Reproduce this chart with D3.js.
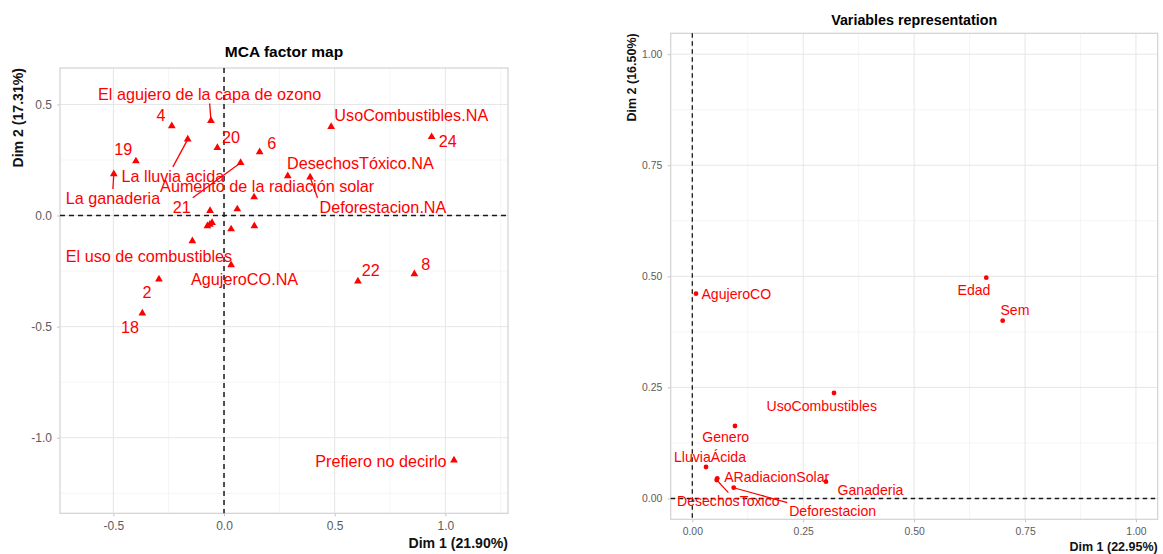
<!DOCTYPE html>
<html>
<head>
<meta charset="utf-8">
<script src="https://cdn.jsdelivr.net/npm/d3@7"></script>
<style>
  html, body { margin: 0; padding: 0; background: #fff; }
  svg { display: block; font-family: "Liberation Sans", Arial, Helvetica, sans-serif; }
</style>
</head>
<body>
<svg id="chart" width="1163" height="554"></svg>
<script>
// ---- MCA factor map: labelled categories / individuals ----
const mcaLabels = [
  "El agujero de la capa de ozono", "4", "20", "La lluvia acida", "19",
  "La ganaderia", "6", "21", "Aumento de la radiación solar",
  "DesechosTóxico.NA", "Deforestacion.NA", "UsoCombustibles.NA", "24",
  "El uso de combustibles", "AgujeroCO.NA", "2", "18", "22", "8",
  "Prefiero no decirlo"
];
const mcaDim1 = [
  -0.059, -0.236, -0.030, -0.164, -0.398,
  -0.498, 0.161, 0.075, 0.136,
  0.288, 0.389, 0.484, 0.938,
  -0.143, 0.032, -0.294, -0.369, 0.605, 0.860,
  1.039
];
const mcaDim2 = [
  0.427, 0.403, 0.305, 0.343, 0.245,
  0.187, 0.286, 0.238, 0.083,
  0.178, 0.172, 0.400, 0.354,
  -0.115, -0.223, -0.287, -0.440, -0.296, -0.263,
  -1.101
];
// repelled label anchors (data units)
const mcaLabelDim1 = [
  -0.065, -0.285, 0.032, -0.231, -0.455,
  -0.502, 0.216, -0.191, 0.195,
  0.616, 0.718, 0.846, 1.011,
  -0.339, 0.093, -0.348, -0.425, 0.663, 0.911,
  0.709
];
const mcaLabelDim2 = [
  0.547, 0.452, 0.355, 0.179, 0.300,
  0.080, 0.328, 0.040, 0.133,
  0.236, 0.040, 0.453, 0.336,
  -0.182, -0.287, -0.346, -0.503, -0.245, -0.218,
  -1.105
];
// labels pushed far enough from their point to get a leader line
const mcaLeader = [
  true, false, false, true, false,
  true, false, true, false,
  false, true, false, false,
  false, false, false, false, false, false,
  false
];
// points whose labels were dropped by the repel step
const mcaHiddenDim1 = [-0.063, 0.060, -0.054, -0.075, -0.064, 0.032, 0.137];
const mcaHiddenDim2 = [0.022, 0.029, -0.032, -0.047, -0.040, -0.061, -0.047];

// ---- Variables representation ----
const varNames = [
  "AgujeroCO", "UsoCombustibles", "Genero", "LluviaÁcida", "ARadiacionSolar",
  "DesechosToxico", "Deforestacion", "Ganaderia", "Edad", "Sem"
];
const varDim1 = [0.0083, 0.3194, 0.0962, 0.0309, 0.0563, 0.0550, 0.0933, 0.3013, 0.6626, 0.6996];
const varDim2 = [0.4610, 0.2375, 0.1632, 0.0709, 0.0455, 0.0416, 0.0243, 0.0378, 0.4971, 0.4003];
const varLabelDim1 = [0.0992, 0.2918, 0.0753, 0.0399, 0.1902, 0.0811, 0.3164, 0.4016, 0.6349, 0.7273];
const varLabelDim2 = [0.4597, 0.2089, 0.1391, 0.0941, 0.0477, -0.0050, -0.0275, 0.0191, 0.4694, 0.4244];
const varLeader = [false, false, false, false, false, true, true, false, false, false];

// ---- axis ticks ----
const mcaTicksX = [-0.5, 0, 0.5, 1.0];
const mcaTicksY = [0.5, 0, -0.5, -1.0];
const mcaMinorX = [-0.25, 0.25, 0.75, 1.25];
const mcaMinorY = [0.25, -0.25, -0.75, -1.25];
const varTicks = [0, 0.25, 0.5, 0.75, 1.0];
const varMinor = [0.125, 0.375, 0.625, 0.875];

const svg = d3.select("#chart");
svg.append("rect").attr("width", 1163).attr("height", 554).attr("fill", "#fff");

const RED = "#ff0000";
const hyphen = f => v => f(v).replace("\u2212", "-");

function drawPanel(o) {
  const g = svg.append("g");
  const x = d3.scaleLinear().domain(o.xDomain).range([o.left, o.right]);
  const y = d3.scaleLinear().domain(o.yDomain).range([o.bottom, o.top]);

  // grid
  const grid = g.append("g");
  grid.selectAll(".mx").data(o.minorX).join("line")
    .attr("x1", d => x(d)).attr("x2", d => x(d)).attr("y1", o.top).attr("y2", o.bottom)
    .attr("stroke", "#f2f2f2").attr("stroke-width", 0.8);
  grid.selectAll(".my").data(o.minorY).join("line")
    .attr("y1", d => y(d)).attr("y2", d => y(d)).attr("x1", o.left).attr("x2", o.right)
    .attr("stroke", "#f2f2f2").attr("stroke-width", 0.8);
  grid.selectAll(".Mx").data(o.ticksX).join("line")
    .attr("x1", d => x(d)).attr("x2", d => x(d)).attr("y1", o.top).attr("y2", o.bottom)
    .attr("stroke", "#e6e6e6").attr("stroke-width", 1);
  grid.selectAll(".My").data(o.ticksY).join("line")
    .attr("y1", d => y(d)).attr("y2", d => y(d)).attr("x1", o.left).attr("x2", o.right)
    .attr("stroke", "#e6e6e6").attr("stroke-width", 1);

  // axes
  const ax = g.append("g").attr("transform", `translate(0,${o.bottom})`)
    .call(d3.axisBottom(x).tickValues(o.ticksX).tickFormat(hyphen(d3.format(o.fmt)))
      .tickSize(3).tickPadding(o.xPad));
  const ay = g.append("g").attr("transform", `translate(${o.left},0)`)
    .call(d3.axisLeft(y).tickValues(o.ticksY).tickFormat(hyphen(d3.format(o.fmt)))
      .tickSize(3).tickPadding(o.yPad));
  [ax, ay].forEach(a => {
    a.select(".domain").remove();
    a.selectAll(".tick line").attr("stroke", "#c4c4c4");
    a.selectAll(".tick text").attr("fill", "#5c5c5c").attr("font-size", o.tickFont)
      .attr("font-family", "Liberation Sans, Arial, sans-serif");
  });

  // panel border
  g.append("rect").attr("x", o.left).attr("y", o.top)
    .attr("width", o.right - o.left).attr("height", o.bottom - o.top)
    .attr("fill", "none").attr("stroke", "#d2d2d2").attr("stroke-width", 1.2);

  // reference lines at the origin
  g.append("line").attr("x1", x(0)).attr("x2", x(0)).attr("y1", o.top).attr("y2", o.bottom)
    .attr("stroke", "#1a1a1a").attr("stroke-width", o.dashW).attr("stroke-dasharray", o.dash);
  g.append("line").attr("y1", y(0)).attr("y2", y(0)).attr("x1", o.left).attr("x2", o.right)
    .attr("stroke", "#1a1a1a").attr("stroke-width", o.dashW).attr("stroke-dasharray", o.dash);

  // title and axis titles
  g.append("text").attr("x", (o.left + o.right) / 2).attr("y", o.titleY)
    .attr("text-anchor", "middle").attr("dominant-baseline", "central")
    .attr("font-weight", "bold").attr("font-size", o.titleFont).attr("fill", "#000").text(o.title);
  g.append("text").attr("x", o.right).attr("y", o.xTitleY)
    .attr("text-anchor", "end").attr("dominant-baseline", "central")
    .attr("font-weight", "bold").attr("font-size", o.axisFont).attr("fill", "#111").text(o.xTitle);
  g.append("text").attr("transform", `translate(${o.yTitleX},${o.top}) rotate(-90)`)
    .attr("text-anchor", "end").attr("dominant-baseline", "central")
    .attr("font-weight", "bold").attr("font-size", o.axisFont).attr("fill", "#111").text(o.yTitle);

  // points and labels
  const segLayer = g.append("g");
  const pts = g.append("g");
  const labs = g.append("g");

  const allPts = o.points.concat(o.hidden || []);
  if (o.shape === "triangle") {
    const symbol = d3.symbol().type(d3.symbolTriangle).size(o.symbolSize);
    pts.selectAll("path").data(allPts).join("path")
      .attr("d", symbol).attr("fill", RED)
      .attr("transform", d => `translate(${x(d.x)},${y(d.y)})`);
  } else {
    pts.selectAll("circle").data(allPts).join("circle")
      .attr("cx", d => x(d.x)).attr("cy", d => y(d.y)).attr("r", o.radius).attr("fill", RED);
  }

  o.points.forEach(d => {
    const t = labs.append("text").attr("x", x(d.lx)).attr("y", y(d.ly))
      .attr("text-anchor", "middle").attr("dominant-baseline", "central")
      .attr("font-size", o.labelFont).attr("fill", RED).text(d.name);
    if (!d.leader) return;
    // leader line from the closest box anchor (corners / edge midpoints) to the point
    const b = t.node().getBBox();
    const pad = 2;
    const x0 = b.x - pad, x1 = b.x + b.width + pad;
    const y0 = b.y + b.height * 0.12 - pad, y1 = b.y + b.height * 0.92 + pad;
    const xm = (x0 + x1) / 2, ym = (y0 + y1) / 2;
    const cands = [[x0, y0], [xm, y0], [x1, y0], [x0, ym], [x1, ym], [x0, y1], [xm, y1], [x1, y1]];
    const px = x(d.x), py = y(d.y);
    let best = cands[0], bd = Infinity;
    cands.forEach(c => {
      const dd = Math.hypot(c[0] - px, c[1] - py);
      if (dd < bd) { bd = dd; best = c; }
    });
    segLayer.append("line").attr("x1", best[0]).attr("y1", best[1])
      .attr("x2", px).attr("y2", py)
      .attr("stroke", RED).attr("stroke-width", o.segW);
  });
}

drawPanel({
  left: 60, right: 508, top: 68, bottom: 513.3,
  xDomain: [-0.741, 1.283], yDomain: [-1.34, 0.664],
  ticksX: mcaTicksX, ticksY: mcaTicksY, minorX: mcaMinorX, minorY: mcaMinorY,
  fmt: ".1f", tickFont: 12, xPad: 5, yPad: 5,
  dash: "5,4", dashW: 1.5,
  title: "MCA factor map", titleY: 51.7, titleFont: 15.5,
  xTitle: "Dim 1 (21.90%)", xTitleY: 543, yTitle: "Dim 2 (17.31%)", yTitleX: 18.3, axisFont: 14.1,
  shape: "triangle", symbolSize: 26, labelFont: 16.2, segW: 1.3,
  points: mcaLabels.map((n, i) => ({
    name: n, x: mcaDim1[i], y: mcaDim2[i], lx: mcaLabelDim1[i], ly: mcaLabelDim2[i], leader: mcaLeader[i]
  })),
  hidden: mcaHiddenDim1.map((v, i) => ({ x: v, y: mcaHiddenDim2[i] }))
});

drawPanel({
  left: 670.7, right: 1157.7, top: 33.3, bottom: 519.3,
  xDomain: [-0.0487, 1.049], yDomain: [-0.0468, 1.047],
  ticksX: varTicks, ticksY: varTicks, minorX: varMinor, minorY: varMinor,
  fmt: ".2f", tickFont: 10.4, xPad: 5.5, yPad: 5.5,
  dash: "4.5,3.5", dashW: 1.3,
  title: "Variables representation", titleY: 20, titleFont: 14.3,
  xTitle: "Dim 1 (22.95%)", xTitleY: 546.7, yTitle: "Dim 2 (16.50%)", yTitleX: 631.7, axisFont: 12.5,
  shape: "circle", radius: 2.4, labelFont: 14.1, segW: 1.2,
  points: varNames.map((n, i) => ({
    name: n, x: varDim1[i], y: varDim2[i], lx: varLabelDim1[i], ly: varLabelDim2[i], leader: varLeader[i]
  }))
});
</script>
</body>
</html>
